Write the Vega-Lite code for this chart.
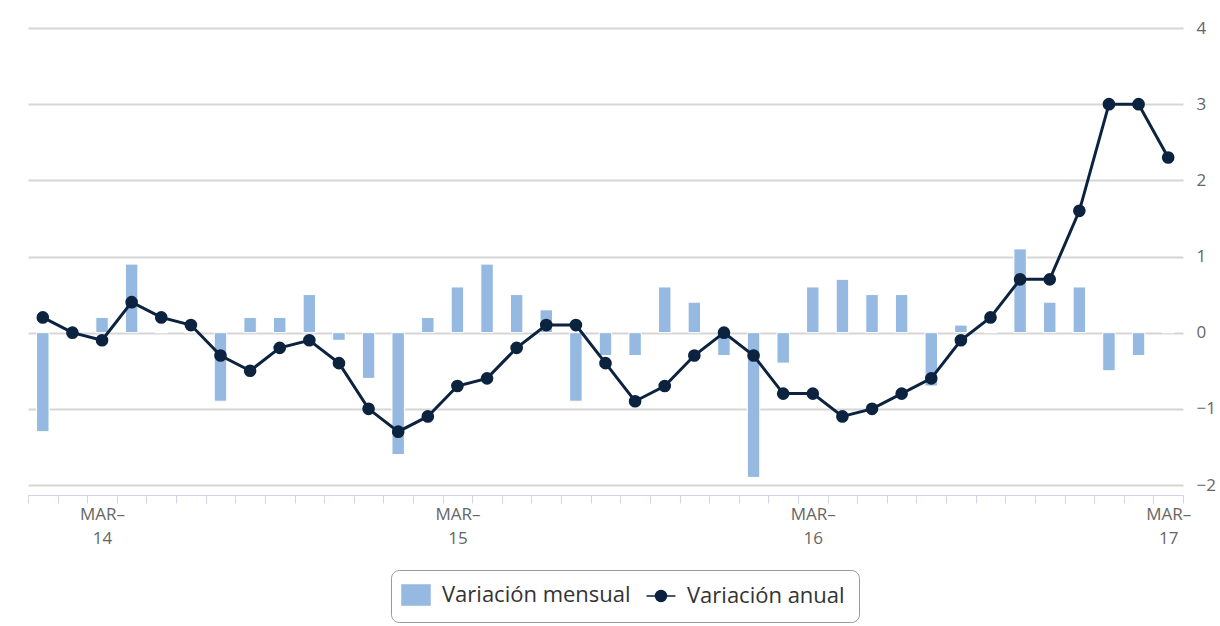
{
  "$schema": "https://vega.github.io/schema/vega-lite/v6.json",
  "autosize": "none",
  "width": 1155,
  "height": 457,
  "padding": {"left": 28, "top": 28, "right": 37, "bottom": 141},
  "background": "#ffffff",
  "config": {
    "font": "Open Sans",
    "view": {"stroke": null}
  },
  "data": {
    "values": [
      {"mes": "2014-01", "mensual": -1.3, "anual": 0.2},
      {"mes": "2014-02", "mensual": 0, "anual": 0.0},
      {"mes": "2014-03", "mensual": 0.2, "anual": -0.1},
      {"mes": "2014-04", "mensual": 0.9, "anual": 0.4},
      {"mes": "2014-05", "mensual": 0, "anual": 0.2},
      {"mes": "2014-06", "mensual": 0, "anual": 0.1},
      {"mes": "2014-07", "mensual": -0.9, "anual": -0.3},
      {"mes": "2014-08", "mensual": 0.2, "anual": -0.5},
      {"mes": "2014-09", "mensual": 0.2, "anual": -0.2},
      {"mes": "2014-10", "mensual": 0.5, "anual": -0.1},
      {"mes": "2014-11", "mensual": -0.1, "anual": -0.4},
      {"mes": "2014-12", "mensual": -0.6, "anual": -1.0},
      {"mes": "2015-01", "mensual": -1.6, "anual": -1.3},
      {"mes": "2015-02", "mensual": 0.2, "anual": -1.1},
      {"mes": "2015-03", "mensual": 0.6, "anual": -0.7},
      {"mes": "2015-04", "mensual": 0.9, "anual": -0.6},
      {"mes": "2015-05", "mensual": 0.5, "anual": -0.2},
      {"mes": "2015-06", "mensual": 0.3, "anual": 0.1},
      {"mes": "2015-07", "mensual": -0.9, "anual": 0.1},
      {"mes": "2015-08", "mensual": -0.3, "anual": -0.4},
      {"mes": "2015-09", "mensual": -0.3, "anual": -0.9},
      {"mes": "2015-10", "mensual": 0.6, "anual": -0.7},
      {"mes": "2015-11", "mensual": 0.4, "anual": -0.3},
      {"mes": "2015-12", "mensual": -0.3, "anual": 0.0},
      {"mes": "2016-01", "mensual": -1.9, "anual": -0.3},
      {"mes": "2016-02", "mensual": -0.4, "anual": -0.8},
      {"mes": "2016-03", "mensual": 0.6, "anual": -0.8},
      {"mes": "2016-04", "mensual": 0.7, "anual": -1.1},
      {"mes": "2016-05", "mensual": 0.5, "anual": -1.0},
      {"mes": "2016-06", "mensual": 0.5, "anual": -0.8},
      {"mes": "2016-07", "mensual": -0.7, "anual": -0.6},
      {"mes": "2016-08", "mensual": 0.1, "anual": -0.1},
      {"mes": "2016-09", "mensual": 0, "anual": 0.2},
      {"mes": "2016-10", "mensual": 1.1, "anual": 0.7},
      {"mes": "2016-11", "mensual": 0.4, "anual": 0.7},
      {"mes": "2016-12", "mensual": 0.6, "anual": 1.6},
      {"mes": "2017-01", "mensual": -0.5, "anual": 3.0},
      {"mes": "2017-02", "mensual": -0.3, "anual": 3.0},
      {"mes": "2017-03", "mensual": 0, "anual": 2.3}
    ]
  },
  "encoding": {
    "x": {
      "field": "mes",
      "type": "ordinal",
      "title": null,
      "scale": {"type": "band", "paddingInner": 0, "paddingOuter": 0},
      "axis": {
        "orient": "bottom",
        "tickBand": "extent",
        "offset": 10,
        "domainColor": "#ccd6eb",
        "tickColor": "#ccd6eb",
        "tickSize": 8,
        "grid": false,
        "labelAngle": 0,
        "labelOverlap": false,
        "labelBound": false,
        "labelFontSize": 17,
        "labelColor": "#666666",
        "labelLineHeight": 24,
        "labelPadding": 3,
        "labelExpr": "substring(datum.value,5,7) == '03' ? ['MAR–', substring(datum.value,2,4)] : ''"
      }
    }
  },
  "layer": [
    {
      "mark": {"type": "bar", "width": {"band": 0.42}, "stroke": "#ffffff", "strokeWidth": 1},
      "encoding": {
        "y": {
          "field": "mensual",
          "type": "quantitative",
          "title": null,
          "scale": {"domain": [-2, 4], "nice": false, "zero": true},
          "axis": {
            "orient": "right",
            "values": [-2, -1, 0, 1, 2, 3, 4],
            "format": "d",
            "grid": true,
            "gridColor": "#d6d6d6",
            "gridWidth": 1.8,
            "ticks": false,
            "domain": false,
            "labelPadding": 13,
            "labelFontSize": 17,
            "labelColor": "#666666"
          }
        },
        "color": {
          "datum": "Variación mensual",
          "scale": {"domain": ["Variación mensual", "Variación anual"], "range": ["#95b9e1", "#0c2340"]},
          "legend": {
            "orient": "none",
            "legendX": 363,
            "legendY": 542,
            "direction": "horizontal",
            "title": null,
            "strokeColor": "#999999",
            "cornerRadius": 8,
            "padding": 14,
            "labelFontSize": 22,
            "labelLimit": 400,
            "labelColor": "#333333",
            "symbolSize": 400,
            "labelOffset": 15,
            "columnPadding": 12,
            "symbolType": {"expr": "datum.value === 'Variación mensual' ? 'M-1.4,-1H1.4V1H-1.4Z' : 'M-1.45,0H1.45M0.55,0A0.55,0.55,0,1,1,-0.55,0A0.55,0.55,0,1,1,0.55,0Z'"},
            "encode": {
              "symbols": {
                "shape": {"value": {"expr": "datum.value === 'Variación mensual' ? 'M-1.4,-1H1.4V1H-1.4Z' : 'M-1.45,0H1.45M0.55,0A0.55,0.55,0,1,1,-0.55,0A0.55,0.55,0,1,1,0.55,0Z'"}},
                "fill": {"value": {"expr": "datum.value === 'Variación mensual' ? '#95b9e1' : '#0c2340'"}},
                "stroke": {"value": {"expr": "datum.value === 'Variación mensual' ? 'transparent' : '#0c2340'"}},
                "strokeWidth": {"value": 3},
                "opacity": {"value": 1},
                "fillOpacity": {"value": 1}
              }
            }
          }
        }
      }
    },
    {
      "mark": {"type": "line", "strokeWidth": 3},
      "encoding": {
        "y": {"field": "anual", "type": "quantitative"},
        "color": {"datum": "Variación anual", "legend": null}
      }
    },
    {
      "mark": {"type": "point", "filled": true, "size": 160, "opacity": 1},
      "encoding": {
        "y": {"field": "anual", "type": "quantitative"},
        "color": {"datum": "Variación anual", "legend": null}
      }
    }
  ]
}
